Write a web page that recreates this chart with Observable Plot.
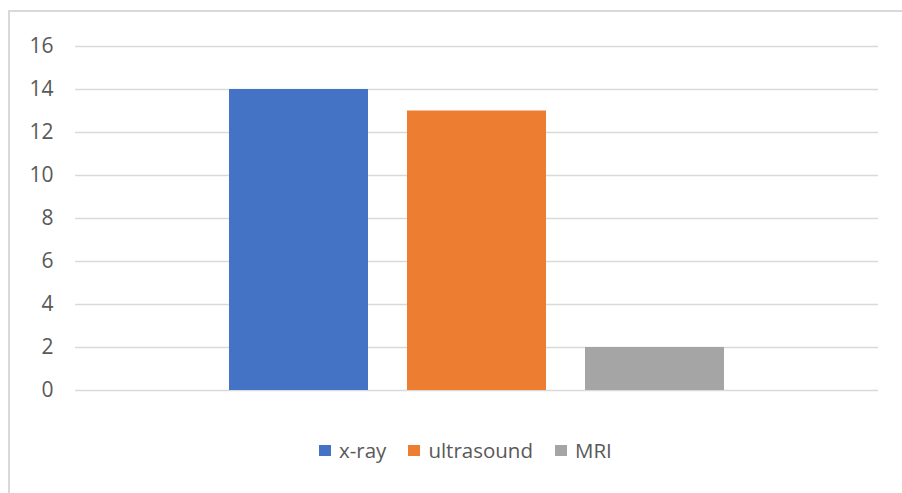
<!DOCTYPE html>
<html>
<head>
<meta charset="utf-8">
<script src="https://cdn.jsdelivr.net/npm/d3@7"></script>
<script src="https://cdn.jsdelivr.net/npm/@observablehq/plot@0.6"></script>
<style>
  html, body { margin: 0; padding: 0; background: #fff; width: 902px; height: 493px; overflow: hidden; }
  body { position: relative; font-family: "Open Sans", "Noto Sans", sans-serif; }
  #frame { position: absolute; left: 8px; top: 10px; width: 920px; height: 520px; border: 2px solid #d9d9d9; box-sizing: border-box; }
  #chart { position: absolute; left: 0; top: 0; }
  #legend { position: absolute; left: 319px; top: 436px; display: flex; align-items: center; font-size: 20.5px; color: #595959; white-space: nowrap; }
  .item { display: flex; align-items: center; margin-right: 22px; }
  .sw { width: 12px; height: 11px; margin-right: 8px; }
</style>
</head>
<body>
<div id="frame"></div>
<div id="chart"></div>
<div id="legend"></div>
<script>
const categories = ["x-ray", "ultrasound", "MRI"];
const values = [14, 13, 2];
const colors = ["#4472C4", "#ED7D31", "#A5A5A5"];
const yTicks = [0, 2, 4, 6, 8, 10, 12, 14, 16];

const data = categories.map((c, i) => ({ modality: c, count: values[i] }));

const plot = Plot.plot({
  width: 902,
  height: 410,
  marginLeft: 75,
  marginRight: 24,
  marginTop: 46,
  marginBottom: 20,
  style: { fontFamily: "'Open Sans', 'Noto Sans', sans-serif", fontSize: "21px", color: "#595959", background: "transparent" },
  x: { domain: categories, paddingInner: 0.219, paddingOuter: 0.865, axis: null },
  y: { domain: [0, 16], ticks: yTicks },
  color: { domain: categories, range: colors },
  marks: [
    Plot.ruleY(yTicks, { stroke: "#d9d9d9", strokeWidth: 1.5 }),
    Plot.barY(data, { x: "modality", y: "count", fill: "modality" }),
    Plot.axisY({ ticks: yTicks, tickSize: 0, tickPadding: 22, fontSize: 21, fill: "#595959", label: null })
  ]
});
document.getElementById("chart").appendChild(plot);

const legend = document.getElementById("legend");
categories.forEach((c, i) => {
  const item = document.createElement("div");
  item.className = "item";
  const sw = document.createElement("div");
  sw.className = "sw";
  sw.style.background = colors[i];
  const t = document.createElement("span");
  t.textContent = c;
  item.appendChild(sw);
  item.appendChild(t);
  legend.appendChild(item);
});
</script>
</body>
</html>
